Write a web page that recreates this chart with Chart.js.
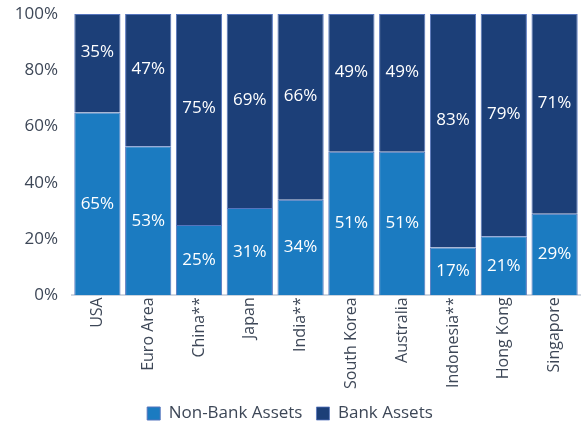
<!DOCTYPE html>
<html>
<head>
<meta charset="utf-8">
<script src="https://cdn.jsdelivr.net/npm/chart.js@4"></script>
<style>
  html, body { margin: 0; padding: 0; background: #ffffff; }
  #wrap { width: 583px; height: 427px; position: relative; }
</style>
</head>
<body>
<div id="wrap"><canvas id="chart"></canvas></div>
<script>
// Non-bank vs bank share of financial assets, by economy
const categories = ["USA", "Euro Area", "China**", "Japan", "India**", "South Korea", "Australia", "Indonesia**", "Hong Kong", "Singapore"];
const nonBankAssets = [65, 53, 25, 31, 34, 51, 51, 17, 21, 29];
const bankAssets = [35, 47, 75, 69, 66, 49, 49, 83, 79, 71];
const yTicks = [0, 20, 40, 60, 80, 100];

const LIGHT = "#1b7bc1";
const DARK = "#1c3f78";
const EDGE = "#5574bd";
const TEXT = "#3d4757";
const FONT = "'Open Sans', 'DejaVu Sans', sans-serif";

// white % labels in the middle of each segment (bank labels sit a bit higher)
const segmentLabels = {
  id: "segmentLabels",
  afterDatasetsDraw(chart) {
    const ctx = chart.ctx;
    ctx.save();
    ctx.fillStyle = "#ffffff";
    ctx.font = "17px " + FONT;
    ctx.textAlign = "center";
    ctx.textBaseline = "middle";
    chart.data.datasets.forEach((ds, di) => {
      const meta = chart.getDatasetMeta(di);
      meta.data.forEach((bar, i) => {
        const mid = (bar.y + bar.base) / 2;
        const y = di === 1 ? mid - 11 : mid;
        ctx.fillText(ds.data[i] + "%", bar.x, y);
      });
    });
    ctx.restore();
  },
};

new Chart(document.getElementById("chart").getContext("2d"), {
  type: "bar",
  data: {
    labels: categories,
    datasets: [
      {
        label: "Non-Bank Assets",
        data: nonBankAssets,
        backgroundColor: LIGHT,
        borderColor: EDGE,
        borderWidth: 1,
        barPercentage: 0.91,
        categoryPercentage: 1,
      },
      {
        label: "Bank Assets",
        data: bankAssets,
        backgroundColor: DARK,
        borderColor: EDGE,
        borderWidth: { top: 1, left: 1, right: 1, bottom: 0 },
        barPercentage: 0.91,
        categoryPercentage: 1,
      },
    ],
  },
  options: {
    responsive: true,
    maintainAspectRatio: false,
    animation: false,
    layout: { padding: { top: 14, right: 3, left: 0, bottom: -5 } },
    plugins: {
      legend: {
        position: "bottom",
        labels: {
          boxWidth: 13,
          boxHeight: 13,
          padding: 14,
          color: TEXT,
          font: { family: FONT, size: 17 },
        },
      },
      tooltip: { enabled: false },
    },
    scales: {
      x: {
        stacked: true,
        grid: { display: false, drawTicks: false },
        border: { display: true, color: "#cfd6e0", width: 2 },
        ticks: {
          maxRotation: 90,
          minRotation: 90,
          padding: 2,
          color: TEXT,
          font: { family: FONT, size: 16 },
        },
      },
      y: {
        stacked: true,
        min: 0,
        max: 100,
        afterBuildTicks: (scale) => { scale.ticks = yTicks.map((v) => ({ value: v })); },
        grid: { display: false, drawTicks: false },
        border: { display: false },
        ticks: {
          padding: 14,
          color: TEXT,
          font: { family: FONT, size: 17 },
          callback: (val) => `${val}%`,
        },
        afterFit: (scale) => {
          scale.width = 72;
          scale.paddingTop = 0;
          scale.paddingBottom = 0;
        },
      },
    },
  },
  plugins: [segmentLabels],
});
</script>
</body>
</html>
